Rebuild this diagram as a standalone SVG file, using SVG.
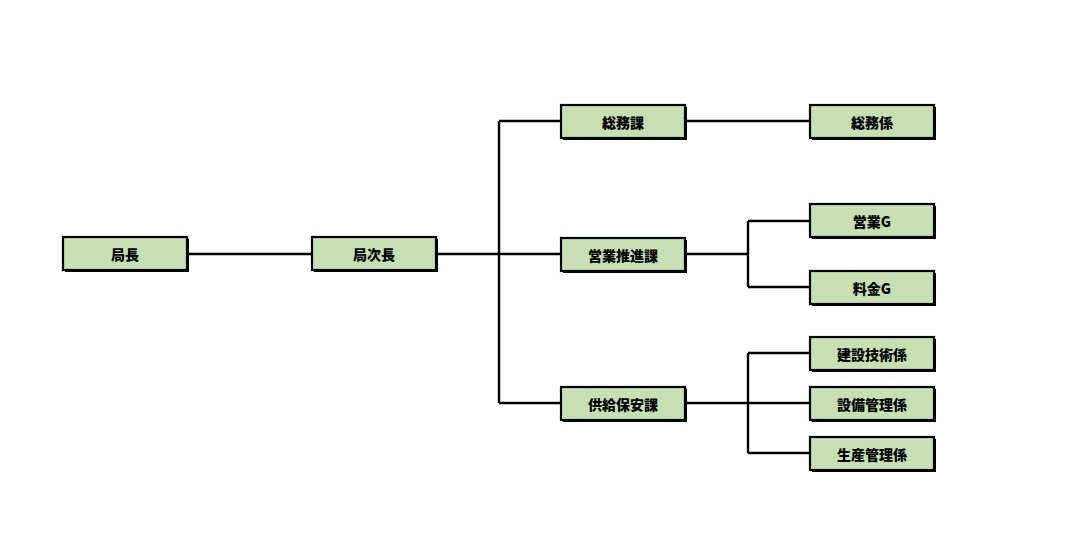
<svg xmlns="http://www.w3.org/2000/svg" width="1065" height="533" viewBox="0 0 1065 533">
<style>
.sh{fill:#000}
.bx{fill:#c6e0b4;stroke:#000;stroke-width:2.2}
.t{font-family:"Noto Sans CJK JP","Noto Sans CJK SC",sans-serif;font-weight:900;font-size:14px;fill:#000;text-anchor:middle;dominant-baseline:central}
.c{stroke:#000;stroke-width:2.4;fill:none}
</style>
<rect width="1065" height="533" fill="#fff"/>
<defs>
<g id="box"><rect class="sh" x="2" y="2" width="124" height="33"/><rect class="bx" x="0" y="0" width="124" height="33"/></g>
</defs>
<g id="connectors">
<path class="c" d="M187 254H561"/>
<path class="c" d="M499 121V403"/>
<path class="c" d="M499 121H561"/>
<path class="c" d="M499 403H561"/>
<path class="c" d="M686 121H810"/>
<path class="c" d="M686 254H748"/>
<path class="c" d="M748 221V287"/>
<path class="c" d="M748 221H810M748 287H810"/>
<path class="c" d="M686 403H810"/>
<path class="c" d="M748 353V453"/>
<path class="c" d="M748 353H810M748 453H810"/>
</g>
<g id="n1"><use href="#box" x="63" y="237"/><text class="t" x="125" y="254">局長</text></g>
<g id="n2"><use href="#box" x="312" y="237"/><text class="t" x="374" y="254">局次長</text></g>
<g id="n3"><use href="#box" x="561" y="105"/><text class="t" x="623" y="122">総務課</text></g>
<g id="n4"><use href="#box" x="561" y="238"/><text class="t" x="623" y="255">営業推進課</text></g>
<g id="n5"><use href="#box" x="561" y="387"/><text class="t" x="623" y="404">供給保安課</text></g>
<g id="n6"><use href="#box" x="810" y="105"/><text class="t" x="872" y="122">総務係</text></g>
<g id="n7"><use href="#box" x="810" y="204"/><text class="t" x="872" y="221">営業G</text></g>
<g id="n8"><use href="#box" x="810" y="271"/><text class="t" x="872" y="288">料金G</text></g>
<g id="n9"><use href="#box" x="810" y="337"/><text class="t" x="872" y="354">建設技術係</text></g>
<g id="n10"><use href="#box" x="810" y="387"/><text class="t" x="872" y="404">設備管理係</text></g>
<g id="n11"><use href="#box" x="810" y="437"/><text class="t" x="872" y="454">生産管理係</text></g>
</svg>
